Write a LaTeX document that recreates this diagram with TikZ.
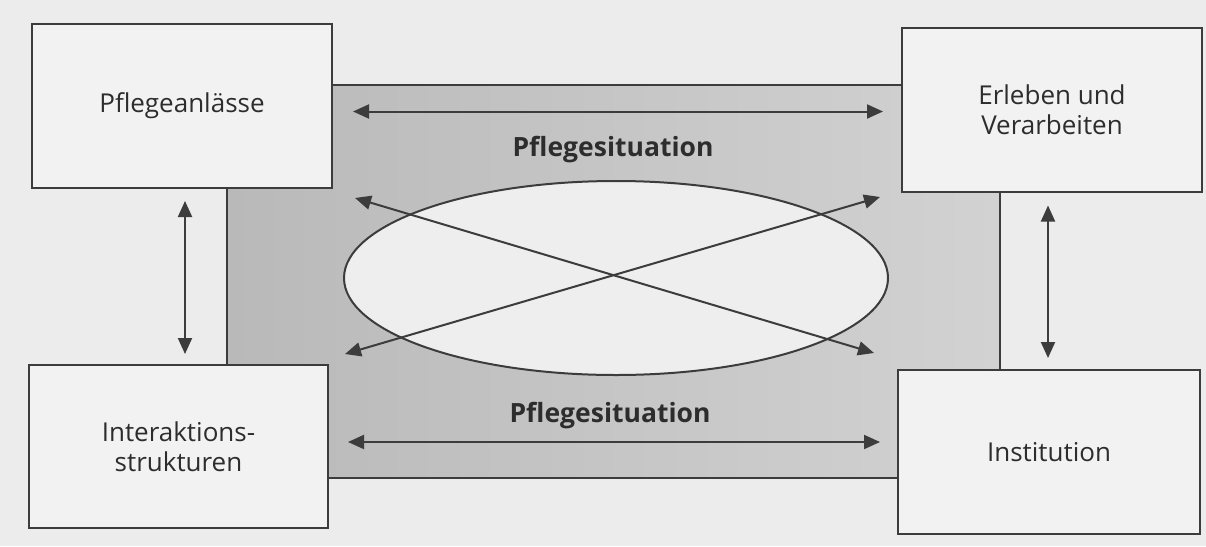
\documentclass[tikz,border=0pt]{standalone}
\usepackage{fontspec}
\setmainfont{Open Sans}
\usetikzlibrary{arrows.meta,shapes.geometric}
\definecolor{pagebg}{RGB}{236,236,236}
\definecolor{boxbg}{RGB}{242,242,242}
\definecolor{ink}{RGB}{60,60,60}
\definecolor{txt}{RGB}{45,45,45}
\definecolor{ellbg}{RGB}{238,238,238}
\tikzset{
  box/.style={draw=ink,line width=2pt,fill=boxbg,minimum width=300pt,minimum height=164pt,inner sep=0pt,align=center,font=\fontsize{26}{30}\selectfont,text=txt},
  conn/.style={draw=ink,line width=2pt,{Triangle[length=16pt,width=14pt]}-{Triangle[length=16pt,width=14pt]}},
  lbl/.style={font=\fontsize{26.5}{30}\selectfont\bfseries,text=txt}
}
\begin{document}
\begin{tikzpicture}[x=1pt,y=-1pt]
\useasboundingbox (0,0) rectangle (1206,546);
\fill[pagebg] (0,0) rectangle (1206,546);
% central gray field
\node[draw=ink,line width=2pt,left color={rgb,255:red,185;green,185;blue,185},right color={rgb,255:red,210;green,210;blue,210},minimum width=773pt,minimum height=393pt,inner sep=0pt] (field) at (613.5,281.5) {};
\node[draw=ink,line width=2pt,fill=ellbg,ellipse,minimum width=544pt,minimum height=194pt,inner sep=0pt] (ell) at (616,278) {};
% boxes
\node[box] (pa) at (182,106) {Pflegeanlässe};
\node[box] (ev) at (1052,109.5) {Erleben und\\Verarbeiten};
\node[box,minimum width=299pt,minimum height=163pt] (is) at (178.5,446.5) {Interaktions-\\strukturen};
\node[box,minimum width=302pt] (in) at (1049,452) {Institution};
% labels
\node[lbl] (t1) at (613,150) {Pflegesituation};
\node[lbl] (t2) at (610,416) {Pflegesituation};
% arrow end points
\coordinate (a1) at (353,111.5);
\coordinate (a2) at (883,111.5);
\coordinate (b1) at (348,442);
\coordinate (b2) at (880,442);
\coordinate (ul) at (355,198);
\coordinate (lr) at (874,353);
\coordinate (ur) at (880,197);
\coordinate (ll) at (345,354);
% connectors
\draw[conn] (a1) -- (a2);
\draw[conn] (b1) -- (b2);
\draw[conn] (ul) -- (lr);
\draw[conn] (ur) -- (ll);
\draw[conn] ([xshift=3pt,yshift=-12pt]pa.south) -- ([xshift=6.5pt,yshift=10pt]is.north);
\draw[conn] ([xshift=-4pt,yshift=-13pt]ev.south) -- ([xshift=-1pt,yshift=11pt]in.north);
\end{tikzpicture}
\end{document}
